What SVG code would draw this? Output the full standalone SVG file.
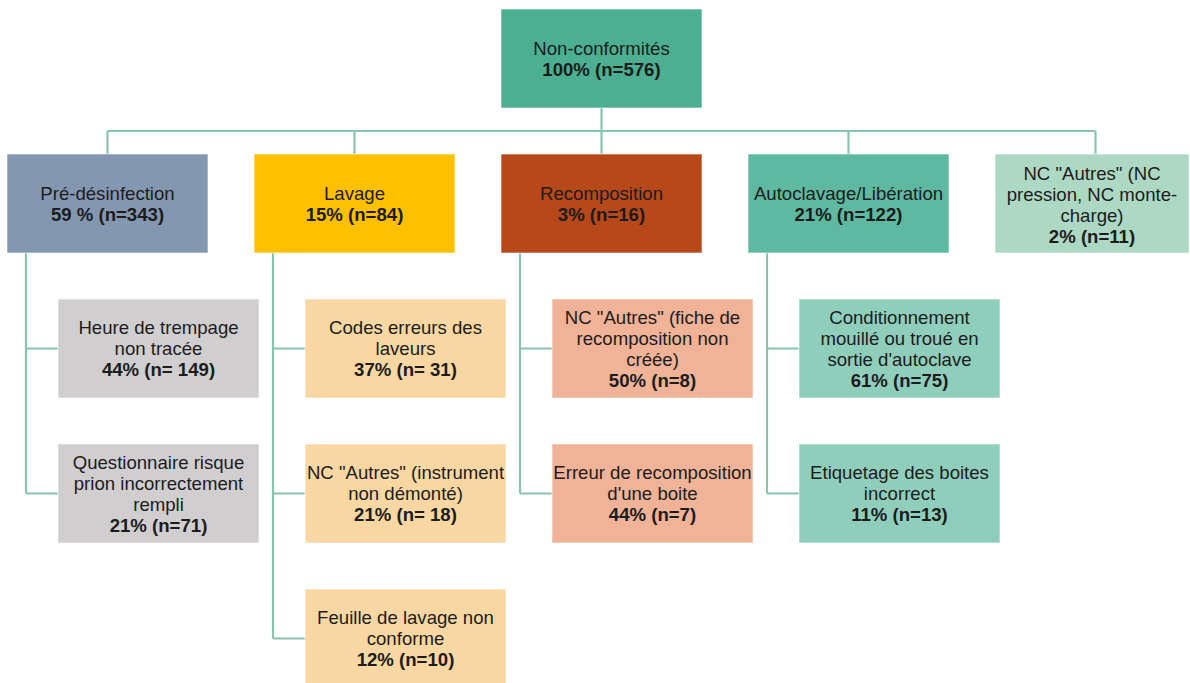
<svg xmlns="http://www.w3.org/2000/svg" width="1190" height="683" viewBox="0 0 1190 683">
<style>
text{font-family:"Liberation Sans",Arial,sans-serif;font-size:18.6px;fill:#1c1c1c;text-anchor:middle}
.b{font-weight:bold}
rect{stroke:#ffffff;stroke-opacity:0.6;stroke-width:1}
.c{fill:none;stroke:#88C4B0;stroke-width:2.2}
</style>
<rect width="1190" height="683" fill="#ffffff" stroke="none"/>
<g id="connectors">
<path class="c" d="M601.5 108V154M107.5 131H1095.5M107.5 131V154M354.5 131V154M848.5 131V154M1095.5 131V154"/>
<path class="c" d="M26 253V493.5M26 348.5H58M26 493.5H58"/>
<path class="c" d="M273 253V638.5M273 348.5H305M273 493.5H305M273 638.5H305"/>
<path class="c" d="M520 253V493.5M520 348.5H552M520 493.5H552"/>
<path class="c" d="M767 253V493.5M767 348.5H799M767 493.5H799"/>
</g>
<g id="root">
<rect x="501" y="9" width="201" height="99" fill="#4CAF91"/>
<text><tspan x="601.5" y="54.7">Non-conformités</tspan><tspan class="b" x="601.5" y="75.7">100% (n=576)</tspan></text>
</g>
<g id="pre">
<rect x="7" y="154" width="201" height="99" fill="#8497B0"/>
<text><tspan x="107.5" y="199.7">Pré-désinfection</tspan><tspan class="b" x="107.5" y="220.7">59 % (n=343)</tspan></text>
</g>
<g id="lavage">
<rect x="254" y="154" width="201" height="99" fill="#FFC000"/>
<text><tspan x="354.5" y="199.7">Lavage</tspan><tspan class="b" x="354.5" y="220.7">15% (n=84)</tspan></text>
</g>
<g id="recomposition">
<rect x="501" y="154" width="201" height="99" fill="#B64819"/>
<text><tspan x="601.5" y="199.7">Recomposition</tspan><tspan class="b" x="601.5" y="220.7">3% (n=16)</tspan></text>
</g>
<g id="autoclavage">
<rect x="748" y="154" width="201" height="99" fill="#5FB9A1"/>
<text><tspan x="848.5" y="199.7">Autoclavage/Libération</tspan><tspan class="b" x="848.5" y="220.7">21% (n=122)</tspan></text>
</g>
<g id="nc-autres">
<rect x="995" y="154" width="194" height="99" fill="#ADD8C4"/>
<text><tspan x="1092" y="179.5">NC "Autres" (NC</tspan><tspan x="1092" y="200.5">pression, NC monte-</tspan><tspan x="1092" y="221.5">charge)</tspan><tspan class="b" x="1092" y="242.5">2% (n=11)</tspan></text>
</g>
<g id="pre-1">
<rect x="58" y="299" width="201" height="99" fill="#D0CECE"/>
<text><tspan x="158.5" y="334.2">Heure de trempage</tspan><tspan x="158.5" y="355.2">non tracée</tspan><tspan class="b" x="158.5" y="376.2">44% (n= 149)</tspan></text>
</g>
<g id="pre-2">
<rect x="58" y="444" width="201" height="99" fill="#D0CECE"/>
<text><tspan x="158.5" y="469.2">Questionnaire risque</tspan><tspan x="158.5" y="490.2">prion incorrectement</tspan><tspan x="158.5" y="511.2">rempli</tspan><tspan class="b" x="158.5" y="532.2">21% (n=71)</tspan></text>
</g>
<g id="lavage-1">
<rect x="305" y="299" width="201" height="99" fill="#F8D7A2"/>
<text><tspan x="405.5" y="334.2">Codes erreurs des</tspan><tspan x="405.5" y="355.2">laveurs</tspan><tspan class="b" x="405.5" y="376.2">37% (n= 31)</tspan></text>
</g>
<g id="lavage-2">
<rect x="305" y="444" width="201" height="99" fill="#F8D7A2"/>
<text><tspan x="405.5" y="479.2">NC "Autres" (instrument</tspan><tspan x="405.5" y="500.2">non démonté)</tspan><tspan class="b" x="405.5" y="521.2">21% (n= 18)</tspan></text>
</g>
<g id="lavage-3">
<rect x="305" y="589" width="201" height="99" fill="#F8D7A2"/>
<text><tspan x="405.5" y="624.2">Feuille de lavage non</tspan><tspan x="405.5" y="645.2">conforme</tspan><tspan class="b" x="405.5" y="666.2">12% (n=10)</tspan></text>
</g>
<g id="recomposition-1">
<rect x="552" y="299" width="201" height="99" fill="#F0B397"/>
<text><tspan x="652.5" y="323.7">NC "Autres" (fiche de</tspan><tspan x="652.5" y="344.7">recomposition non</tspan><tspan x="652.5" y="365.7">créée)</tspan><tspan class="b" x="652.5" y="386.7">50% (n=8)</tspan></text>
</g>
<g id="recomposition-2">
<rect x="552" y="444" width="201" height="99" fill="#F0B397"/>
<text><tspan x="652.5" y="479.2">Erreur de recomposition</tspan><tspan x="652.5" y="500.2">d'une boite</tspan><tspan class="b" x="652.5" y="521.2">44% (n=7)</tspan></text>
</g>
<g id="autoclavage-1">
<rect x="799" y="299" width="201" height="99" fill="#90CEBC"/>
<text><tspan x="899.5" y="323.7">Conditionnement</tspan><tspan x="899.5" y="344.7">mouillé ou troué en</tspan><tspan x="899.5" y="365.7">sortie d'autoclave</tspan><tspan class="b" x="899.5" y="386.7">61% (n=75)</tspan></text>
</g>
<g id="autoclavage-2">
<rect x="799" y="444" width="201" height="99" fill="#90CEBC"/>
<text><tspan x="899.5" y="479.2">Etiquetage des boites</tspan><tspan x="899.5" y="500.2">incorrect</tspan><tspan class="b" x="899.5" y="521.2">11% (n=13)</tspan></text>
</g>
</svg>
